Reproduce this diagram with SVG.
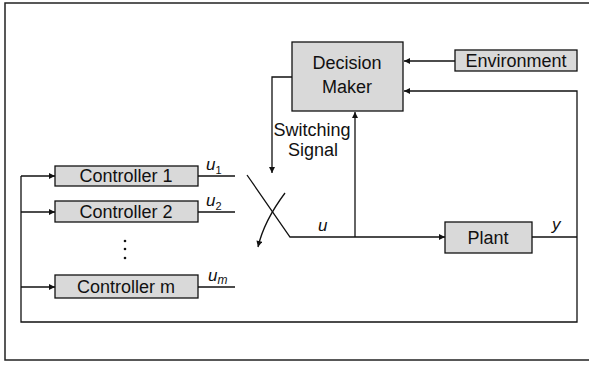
<svg xmlns="http://www.w3.org/2000/svg" width="589" height="365" viewBox="0 0 589 365">
<defs>
<style>
.box{fill:#d9d9d9;stroke:#111;stroke-width:1.3}
.t{font-family:"Liberation Sans",Arial,sans-serif;font-size:18px;fill:#111;text-anchor:middle}
.v{font-family:"Liberation Sans",Arial,sans-serif;font-size:17px;font-style:italic;fill:#111}
.ln{fill:none;stroke:#111;stroke-width:1.3}
</style>
<marker id="ah" viewBox="0 0 10 10" refX="10" refY="5" markerWidth="8" markerHeight="6" markerUnits="userSpaceOnUse" orient="auto">
<path d="M0,0 L10,5 L0,10 z" fill="#111"/>
</marker>
</defs>
<rect width="589" height="365" fill="#fff"/>
<rect x="5" y="3" width="600" height="357" fill="none" stroke="#222" stroke-width="1.5"/>

<g id="connectors">
<!-- Environment to Decision Maker -->
<line class="ln" x1="455" y1="61" x2="404" y2="61" marker-end="url(#ah)"/>
<!-- feedback y to Decision Maker -->
<polyline class="ln" points="577,237 577,91 404,91" marker-end="url(#ah)"/>
<!-- switching signal -->
<polyline class="ln" points="292,77 272,77 272,173" marker-end="url(#ah)"/>
<!-- u to Decision Maker -->
<line class="ln" x1="355" y1="237" x2="355" y2="112" marker-end="url(#ah)"/>
<!-- switch -->
<polyline class="ln" points="247,175 290,237 445,237" marker-end="url(#ah)"/>
<path class="ln" d="M285,193 Q264,221 258,247" marker-end="url(#ah)"/>
<!-- plant output and feedback loop -->
<line class="ln" x1="532" y1="237" x2="577" y2="237"/>
<polyline class="ln" points="577,237 577,322 21,322 21,176"/>
<line class="ln" x1="21" y1="176" x2="55" y2="176" marker-end="url(#ah)"/>
<line class="ln" x1="21" y1="212" x2="55" y2="212" marker-end="url(#ah)"/>
<line class="ln" x1="21" y1="287" x2="55" y2="287" marker-end="url(#ah)"/>
<!-- controller outputs -->
<line class="ln" x1="198" y1="176" x2="235" y2="176"/>
<line class="ln" x1="198" y1="212" x2="235" y2="212"/>
<line class="ln" x1="198" y1="287" x2="235" y2="287"/>
</g>

<g id="decision-maker">
<rect class="box" x="292" y="42" width="111" height="69"/>
<text class="t" x="347" y="69">Decision</text>
<text class="t" x="347" y="93">Maker</text>
</g>
<g id="environment">
<rect class="box" x="455" y="50" width="122" height="21"/>
<text class="t" x="516" y="67">Environment</text>
</g>
<g id="controller-1">
<rect class="box" x="55" y="166" width="143" height="20"/>
<text class="t" x="126" y="182">Controller 1</text>
</g>
<g id="controller-2">
<rect class="box" x="55" y="201" width="143" height="21"/>
<text class="t" x="126" y="218">Controller 2</text>
</g>
<g id="controller-m">
<rect class="box" x="55" y="275" width="143" height="23"/>
<text class="t" x="126" y="293">Controller m</text>
</g>
<g id="plant">
<rect class="box" x="445" y="222" width="87" height="31"/>
<text class="t" x="488" y="244">Plant</text>
</g>

<g id="labels">
<text class="t" x="312" y="136" font-size="17">Switching</text>
<text class="t" x="313" y="156" font-size="17">Signal</text>
<text class="v" x="206" y="170">u<tspan font-size="11" font-style="normal" dy="4">1</tspan></text>
<text class="v" x="206" y="206">u<tspan font-size="11" font-style="normal" dy="4">2</tspan></text>
<text class="v" x="208" y="281">u<tspan font-size="12" dy="3">m</tspan></text>
<text class="v" x="318" y="231">u</text>
<text class="v" x="552" y="230">y</text>
<circle cx="125" cy="241" r="1.3" fill="#111"/>
<circle cx="125" cy="249" r="1.3" fill="#111"/>
<circle cx="125" cy="258" r="1.3" fill="#111"/>
</g>
</svg>
